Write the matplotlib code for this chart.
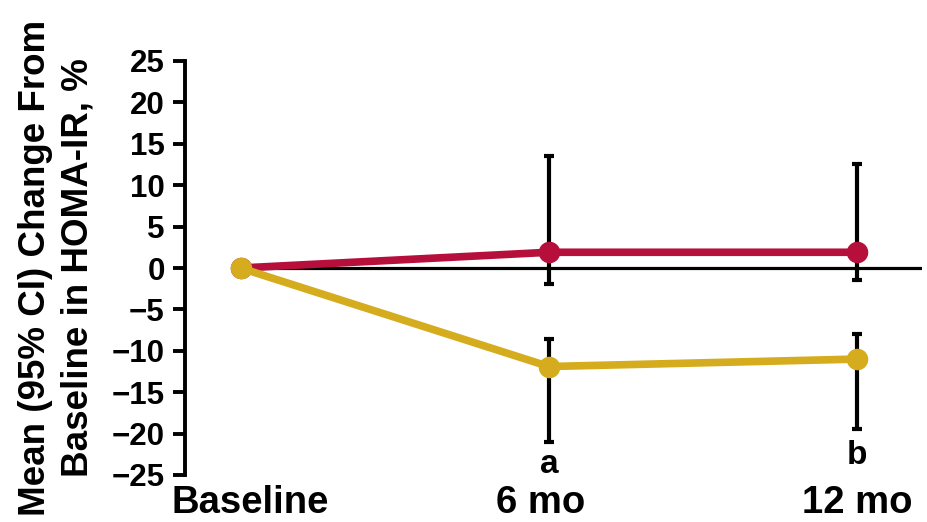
import matplotlib
matplotlib.use("Agg")
import matplotlib.pyplot as plt
from matplotlib.transforms import ScaledTranslation

plt.rcParams['font.family'] = ['Liberation Sans', 'DejaVu Sans']
plt.rcParams['font.weight'] = 'bold'

# Time points
categories = ["Baseline", "6 mo", "12 mo"]

# Mean % change from baseline in HOMA-IR, with 95% CI bounds
red_mean = [0.0, 1.9, 1.9]
red_lo = [None, -1.9, -1.5]
red_hi = [None, 13.5, 12.6]

yellow_mean = [0.0, -11.9, -11.0]
yellow_lo = [None, -21.0, -19.4]
yellow_hi = [None, -8.6, -8.0]

# Significance annotations under each follow-up visit
sig_labels = ["", "a", "b"]
sig_y = [None, -23.7, -22.7]

y_ticks = [25, 20, 15, 10, 5, 0, -5, -10, -15, -20, -25]

RED = "#B70F3B"
YELLOW = "#D5AC1D"

fig = plt.figure(figsize=(9.28, 5.22), dpi=100)
ax = fig.add_axes([185 / 928, 47 / 522, 737 / 928, 414 / 522])

x = list(range(len(categories)))

# Reference line at zero
ax.hlines(0, 0, 2.21, color="black", lw=2.3, zorder=1)

# 95% CI bars
for means, lo, hi in ((red_mean, red_lo, red_hi), (yellow_mean, yellow_lo, yellow_hi)):
    xs = [x[i] for i in range(1, len(x))]
    ms = [means[i] for i in range(1, len(x))]
    err = [[means[i] - lo[i] for i in range(1, len(x))],
           [hi[i] - means[i] for i in range(1, len(x))]]
    ax.errorbar(xs, ms, yerr=err, fmt="none", ecolor="black", elinewidth=3.0,
                capsize=3.5, capthick=3.0, zorder=2)

ax.plot(x, red_mean, color=RED, lw=5.5, marker="o", markersize=14.5,
        solid_capstyle="butt", zorder=3)
ax.plot(x, yellow_mean, color=YELLOW, lw=5.5, marker="o", markersize=14.5,
        solid_capstyle="butt", zorder=4)

for i, lab in enumerate(sig_labels):
    if lab:
        ax.text(x[i], sig_y[i], lab, ha="center", va="center",
                fontsize=24, fontweight="bold")

ax.set_xlim(-0.18, 2.21)
ax.set_ylim(-25, 25)
ax.set_yticks(y_ticks)
ax.set_yticklabels([str(t).replace("-", "\u2212") for t in y_ticks])
ax.set_xticks(x)
ax.set_xticklabels(categories)

for s in ("top", "right", "bottom"):
    ax.spines[s].set_visible(False)
ax.spines["left"].set_linewidth(2.8)
ax.tick_params(axis="y", length=8.5, width=2.8, pad=6, labelsize=22.5)
ax.tick_params(axis="x", length=0, pad=7, labelsize=27.5)
for lbl in ax.get_xticklabels() + ax.get_yticklabels():
    lbl.set_fontweight("bold")

# small horizontal nudges of the category labels (in points)
x_nudge = [7, -6, 0]
for lbl, dx in zip(ax.get_xticklabels(), x_nudge):
    lbl.set_transform(lbl.get_transform() + ScaledTranslation(dx / 72, 0, fig.dpi_scale_trans))

ax.set_ylabel("Mean (95% CI) Change From\nBaseline in HOMA-IR, %",
              fontsize=26.5, fontweight="bold", linespacing=1.25)
ax.yaxis.set_label_coords(-0.122, 0.5)

fig.savefig("out.png", dpi=100)
